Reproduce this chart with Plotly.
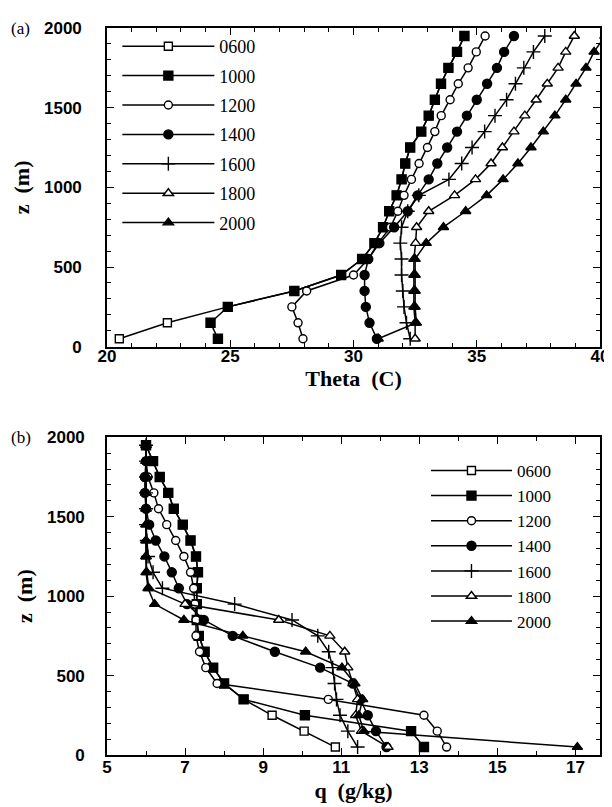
import plotly.graph_objects as go

# heights (m)
z_levels = [50, 150, 250, 350, 450, 550, 650, 750, 850, 950,
            1050, 1150, 1250, 1350, 1450, 1550, 1650, 1750, 1850, 1950]

series_names = ["0600", "1000", "1200", "1400", "1600", "1800", "2000"]

# (a) potential temperature (C)
theta_0600 = [20.5, 22.45, 24.9, 27.6, 29.5, 30.35, 30.85, 31.2, 31.45, 31.75,
              31.95, 32.1, 32.3, 32.75, 33.05, 33.3, 33.55, 33.85, 34.2, 34.5]
theta_1000 = [24.5, 24.2, 24.9, 27.6, 29.5, 30.35, 30.85, 31.2, 31.45, 31.75,
              31.95, 32.1, 32.3, 32.75, 33.05, 33.3, 33.55, 33.85, 34.2, 34.5]
theta_1200 = [27.95, 27.75, 27.5, 28.1, 30.0, 30.6, 31.0, 31.5, 31.8, 32.05,
              32.35, 32.66, 33.0, 33.3, 33.56, 33.92, 34.25, 34.65, 34.98, 35.34]
theta_1400 = [30.95, 30.65, 30.5, 30.45, 30.45, 30.6, 31.05, 31.65, 32.2, 32.6,
              33.05, 33.4, 33.8, 34.2, 34.6, 35.0, 35.42, 35.82, 36.11, 36.51]
theta_1600 = [32.3, 32.15, 32.05, 32.0, 31.95, 31.95, 31.9, 31.95, 32.2, 32.65,
              33.87, 34.39, 34.81, 35.32, 35.74, 36.21, 36.57, 36.91, 37.3, 37.76]
theta_1800 = [32.5, 32.5, 32.45, 32.45, 32.45, 32.45, 32.52, 32.56, 33.05, 34.1,
              34.95, 35.58, 36.04, 36.51, 36.95, 37.41, 37.86, 38.3, 38.61, 38.96]
theta_2000 = [31.0, 32.55, 32.5, 32.5, 32.5, 32.5, 32.95, 33.65, 34.55, 35.4,
              36.07, 36.67, 37.2, 37.7, 38.17, 38.61, 39.03, 39.43, 39.76, 40.2]

# (b) specific humidity (g/kg)
q_0600 = [10.85, 10.05, 9.23, 8.5, 8.0, 7.72, 7.5, 7.35, 7.3, 7.3,
          7.3, 7.33, 7.28, 7.14, 6.94, 6.71, 6.57, 6.35, 6.18, 6.0]
q_1000 = [13.12, 12.79, 10.07, 8.5, 8.0, 7.72, 7.5, 7.35, 7.3, 7.3,
          7.3, 7.33, 7.28, 7.14, 6.94, 6.71, 6.57, 6.35, 6.18, 6.0]
q_1200 = [13.7, 13.46, 13.12, 10.67, 7.82, 7.53, 7.37, 7.28, 7.28, 7.25,
          7.22, 7.14, 6.97, 6.76, 6.53, 6.32, 6.2, 6.05, 6.0, 6.0]
q_1400 = [12.16, 11.89, 11.68, 11.5, 11.3, 10.46, 9.3, 8.22, 7.48, 7.05,
          6.84, 6.66, 6.47, 6.25, 6.08, 6.0, 5.97, 5.97, 6.0, 6.0]
q_1600 = [11.42, 11.17, 10.97, 10.88, 10.83, 10.78, 10.68, 10.4, 9.74, 8.27,
          6.42, 6.18, 6.05, 6.02, 6.0, 6.0, 6.0, 6.0, 6.0, 6.0]
q_1800 = [12.2, 11.52, 11.37, 11.42, 11.3, 11.17, 11.09, 10.71, 9.4, 7.0,
          6.07, 6.02, 6.0, 6.0, 6.0, 6.0, 6.0, 6.0, 6.0, 6.0]
q_2000 = [17.05, 11.58, 11.45, 11.55, 11.35, 11.02, 10.09, 8.48, 6.97, 6.22,
          6.05, 6.0, 6.0, 6.0, 6.0, 6.0, 6.0, 6.0, 6.0, 6.0]

theta_series = [theta_0600, theta_1000, theta_1200, theta_1400, theta_1600, theta_1800, theta_2000]
q_series = [q_0600, q_1000, q_1200, q_1400, q_1600, q_1800, q_2000]

theta_ticks = [20, 25, 30, 35, 40]
q_ticks = [5, 7, 9, 11, 13, 15, 17]
z_ticks = [0, 500, 1000, 1500, 2000]

# marker styles: (symbol, fill)
styles = [
    ("square", "white"),
    ("square", "black"),
    ("circle", "white"),
    ("circle", "black"),
    ("cross-thin", "black"),
    ("triangle-up", "white"),
    ("triangle-up", "black"),
]
sizes = [8, 9, 8, 9, 10, 9, 9]

fig = go.Figure()

for panel, (data, xa, ya, leg) in enumerate([
        (theta_series, "x", "y", "legend"),
        (q_series, "x2", "y2", "legend2")]):
    for i, name in enumerate(series_names):
        sym, fill = styles[i]
        fig.add_trace(go.Scatter(
            x=data[i], y=z_levels, xaxis=xa, yaxis=ya,
            mode="lines+markers", name=name,
            legend=leg, legendgroup=f"{leg}_{name}",
            line=dict(color="black", width=1.5),
            marker=dict(symbol=sym, size=sizes[i], color=fill,
                        line=dict(color="black", width=1.4)),
            cliponaxis=True,
        ))

tick_font = dict(family="Liberation Sans, Arial, sans-serif", size=17,
                 color="black")
title_font = dict(family="Liberation Serif, Times New Roman, serif", size=22,
                  color="black", weight="bold")


def bold(vals):
    return [f"<b>{v}</b>" for v in vals]


def xaxis(rng, ticks, minor_dtick, title, anchor, standoff, tstandoff):
    return dict(range=rng, tickvals=ticks, ticktext=bold(ticks),
                ticks="inside", ticklen=7,
                tickwidth=1.3, tickcolor="black", showline=True,
                linecolor="black", linewidth=1.6, mirror="allticks",
                showgrid=False, zeroline=False, tickfont=tick_font,
                ticklabelstandoff=standoff,
                minor=dict(ticks="inside", dtick=minor_dtick, ticklen=4,
                           tickwidth=1.1, tickcolor="black", showgrid=False),
                title=dict(text=title, font=title_font, standoff=tstandoff),
                anchor=anchor, domain=[0, 1])


def yaxis(domain, anchor, standoff):
    return dict(range=[0, 2000], tickvals=z_ticks, ticktext=bold(z_ticks),
                ticks="inside", ticklen=7,
                tickwidth=1.3, tickcolor="black", showline=True,
                linecolor="black", linewidth=1.6, mirror="allticks",
                showgrid=False, zeroline=False, tickfont=tick_font,
                ticklabelstandoff=standoff,
                minor=dict(ticks="inside", dtick=100, ticklen=4,
                           tickwidth=1.1, tickcolor="black", showgrid=False),
                title=dict(text="z  (m)", font=title_font, standoff=8),
                domain=domain, anchor=anchor)


legend_font = dict(family="Liberation Serif, Times New Roman, serif", size=18,
                   color="black")
legend2_font = dict(family="Liberation Serif, Times New Roman, serif", size=17,
                    color="black")
label_font = dict(family="Liberation Serif, Times New Roman, serif", size=17,
                  color="black")

fig.update_layout(
    width=612, height=807,
    margin=dict(l=99, r=11, t=17, b=60),
    paper_bgcolor="white", plot_bgcolor="white",
    xaxis=xaxis([20, 40], theta_ticks, 1, "Theta  (C)", "y", -7, 4),
    yaxis=yaxis([0.5616, 1.0], "x", 20),
    xaxis2=xaxis([5, 17.63], q_ticks, 1, "q  (g/kg)", "y2", -4, 6),
    yaxis2=yaxis([0.0, 0.437], "x2", 17),
    legend=dict(x=0.021, y=1.0, xanchor="left", yanchor="top",
                font=legend_font, bgcolor="rgba(0,0,0,0)",
                tracegroupgap=3, itemwidth=92),
    legend2=dict(x=0.647, y=0.4155, xanchor="left", yanchor="top",
                 font=legend2_font, bgcolor="rgba(0,0,0,0)",
                 tracegroupgap=0, itemwidth=81),
    showlegend=True,
    annotations=[
        dict(text="(a)", xref="paper", yref="paper", x=-0.175, y=1.0,
             xanchor="center", yanchor="middle", showarrow=False,
             font=label_font),
        dict(text="(b)", xref="paper", yref="paper", x=-0.175, y=0.437,
             xanchor="center", yanchor="middle", showarrow=False,
             font=label_font),
    ],
)

fig.write_html("out.html")
